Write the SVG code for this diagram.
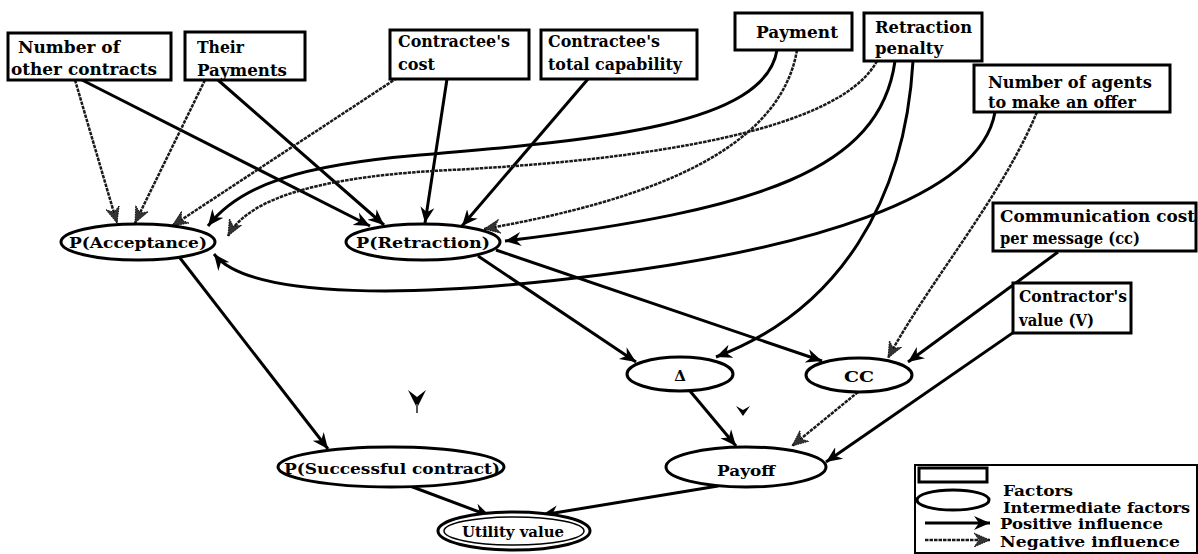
<svg xmlns="http://www.w3.org/2000/svg" width="1198" height="554" viewBox="0 0 1198 554">
<style>
.box{fill:#fff;stroke:#000;stroke-width:3}
.ell{fill:#fff;stroke:#000;stroke-width:3}
.bt{font-family:"DejaVu Serif","Liberation Serif",serif;font-weight:bold;font-size:16px;fill:#000}
.et{font-family:"DejaVu Serif","Liberation Serif",serif;font-weight:bold;font-size:15px;fill:#000}
.lt{font-family:"DejaVu Serif","Liberation Serif",serif;font-weight:bold;font-size:15px;fill:#000}
.pos{fill:none;stroke:#000;stroke-width:3;marker-end:url(#ap)}
.neg{fill:none;stroke:#1a1a1a;stroke-width:2.5;stroke-dasharray:3.5 1;marker-end:url(#an)}
</style>
<defs>
<marker id="ap" markerUnits="userSpaceOnUse" markerWidth="20" markerHeight="16" refX="16" refY="7" orient="auto" viewBox="0 0 20 14">
<path d="M0,0 L16,7 L0,14 L5,7 Z" fill="#000"/>
</marker>
<marker id="an" markerUnits="userSpaceOnUse" markerWidth="20" markerHeight="16" refX="16" refY="7" orient="auto" viewBox="0 0 20 14">
<path d="M0,0 L16,7 L0,14 L5,7 Z" fill="#333" stroke="#000" stroke-width="0.8" stroke-dasharray="1.5 1"/>
</marker>
</defs>
<rect width="1198" height="554" fill="#fff"/>

<g id="connectors">
<path class="pos" d="M82,80 L370,226"/>
<path class="pos" d="M218,80 L384,225"/>
<path class="pos" d="M447,79 L425,223"/>
<path class="pos" d="M588,79 L462,226"/>
<path class="pos" d="M777,50 C765,125 600,140 420,155 C300,165 240,185 208,226"/>
<path class="pos" d="M895,61 C880,170 760,210 505,241"/>
<path class="pos" d="M913,61 C905,200 840,310 716,357"/>
<path class="pos" d="M995,112 C980,200 800,250 600,275 C420,298 250,300 214,254"/>
<path class="pos" d="M1058,252 L908,362"/>
<path class="pos" d="M1027,323 L826,462"/>
<path class="pos" d="M478,256 L636,362"/>
<path class="pos" d="M496,250 L822,361"/>
<path class="pos" d="M180,258 L328,449"/>
<path class="pos" d="M690,391 L736,446"/>
<path class="pos" d="M410,486 L490,516"/>
<path class="pos" d="M718,486 L542,515"/>
<path class="neg" d="M75,80 L117,223"/>
<path class="neg" d="M205,80 L135,223"/>
<path class="neg" d="M397,78 L172,226"/>
<path class="neg" d="M797,50 C780,150 650,200 484,229"/>
<path class="neg" d="M877,61 C840,130 650,160 450,170 C330,176 250,195 228,236"/>
<path class="neg" d="M1037,112 C1000,200 930,280 888,358"/>
<path class="neg" d="M858,392 L792,446"/>
<path d="M408,390 L417,408 L426,390 L417,397 Z" fill="#000"/>
<path d="M417,404 L417,413" stroke="#555" stroke-width="2"/>
<path d="M736,406 L743,416 L750,406 L743,410 Z" fill="#000"/>
</g>

<g id="n-other-contracts"><rect class="box" x="8" y="33" width="163" height="47"/><text class="bt" x="18" y="53" textLength="102" lengthAdjust="spacingAndGlyphs">Number of</text><text class="bt" x="11" y="75" textLength="146" lengthAdjust="spacingAndGlyphs">other contracts</text></g>
<g id="n-their-payments"><rect class="box" x="185" y="32" width="120" height="48"/><text class="bt" x="197" y="53" textLength="47" lengthAdjust="spacingAndGlyphs">Their</text><text class="bt" x="197" y="76" textLength="90" lengthAdjust="spacingAndGlyphs">Payments</text></g>
<g id="n-contractee-cost"><rect class="box" x="390" y="30" width="139" height="49"/><text class="bt" x="398" y="47" textLength="112" lengthAdjust="spacingAndGlyphs">Contractee's</text><text class="bt" x="398" y="70" textLength="37" lengthAdjust="spacingAndGlyphs">cost</text></g>
<g id="n-contractee-capability"><rect class="box" x="541" y="30" width="156" height="49"/><text class="bt" x="548" y="47" textLength="112" lengthAdjust="spacingAndGlyphs">Contractee's</text><text class="bt" x="548" y="70" textLength="134" lengthAdjust="spacingAndGlyphs">total capability</text></g>
<g id="n-payment"><rect class="box" x="735" y="13" width="117" height="37"/><text class="bt" x="756" y="38" textLength="82" lengthAdjust="spacingAndGlyphs">Payment</text></g>
<g id="n-retraction-penalty"><rect class="box" x="864" y="13" width="118" height="48"/><text class="bt" x="875" y="33" textLength="97" lengthAdjust="spacingAndGlyphs">Retraction</text><text class="bt" x="875" y="54" textLength="68" lengthAdjust="spacingAndGlyphs">penalty</text></g>
<g id="n-agents-offer"><rect class="box" x="974" y="65" width="196" height="47"/><text class="bt" x="988" y="88" textLength="164" lengthAdjust="spacingAndGlyphs">Number of agents</text><text class="bt" x="988" y="108" textLength="148" lengthAdjust="spacingAndGlyphs">to make an offer</text></g>
<g id="n-comm-cost"><rect class="box" x="993" y="203" width="203" height="48"/><text class="bt" x="1000" y="222" textLength="195" lengthAdjust="spacingAndGlyphs">Communication cost</text><text class="bt" x="1000" y="244" textLength="140" lengthAdjust="spacingAndGlyphs">per message (cc)</text></g>
<g id="n-contractor-value"><rect class="box" x="1013" y="283" width="118" height="50"/><text class="bt" x="1019" y="302" textLength="108" lengthAdjust="spacingAndGlyphs">Contractor's</text><text class="bt" x="1019" y="326" textLength="75" lengthAdjust="spacingAndGlyphs">value (V)</text></g>

<g id="n-p-acceptance"><ellipse class="ell" cx="138" cy="242" rx="77" ry="18"/><text class="et" x="138" y="248" text-anchor="middle" textLength="138" lengthAdjust="spacingAndGlyphs">P(Acceptance)</text></g>
<g id="n-p-retraction"><ellipse class="ell" cx="423" cy="242" rx="77" ry="18"/><text class="et" x="423" y="248" text-anchor="middle" textLength="134" lengthAdjust="spacingAndGlyphs">P(Retraction)</text></g>
<g id="n-delta"><ellipse class="ell" cx="680" cy="374" rx="53" ry="17"/><text class="et" x="680" y="381" text-anchor="middle" font-size="14">Δ</text></g>
<g id="n-cc"><ellipse class="ell" cx="859" cy="375" rx="53" ry="17"/><text class="et" x="859" y="382" text-anchor="middle" textLength="30" lengthAdjust="spacingAndGlyphs">CC</text></g>
<g id="n-p-success"><ellipse class="ell" cx="391" cy="467" rx="113" ry="20"/><text class="et" x="392" y="474" text-anchor="middle" textLength="216" lengthAdjust="spacingAndGlyphs">P(Successful contract)</text></g>
<g id="n-payoff"><ellipse class="ell" cx="746" cy="467" rx="80" ry="20"/><text class="et" x="746" y="476" text-anchor="middle" textLength="58" lengthAdjust="spacingAndGlyphs">Payoff</text></g>
<g id="n-utility"><ellipse class="ell" cx="514" cy="531" rx="76" ry="19"/><ellipse cx="514" cy="531" rx="70" ry="14" fill="none" stroke="#000" stroke-width="1.5"/><text class="et" x="513" y="537" text-anchor="middle" textLength="102" lengthAdjust="spacingAndGlyphs">Utility value</text></g>

<g id="legend">
<rect x="915" y="465" width="282" height="88" fill="#fff" stroke="#000" stroke-width="2"/>
<rect x="919" y="468" width="68" height="14" fill="#fff" stroke="#000" stroke-width="3"/>
<text class="lt" x="1003" y="496" textLength="70" lengthAdjust="spacingAndGlyphs">Factors</text>
<ellipse cx="953" cy="500" rx="36" ry="10" fill="#fff" stroke="#000" stroke-width="3"/>
<text class="lt" x="1003" y="513" textLength="187" lengthAdjust="spacingAndGlyphs">Intermediate factors</text>
<path class="pos" d="M925,523 L990,523"/>
<text class="lt" x="1000" y="529" textLength="163" lengthAdjust="spacingAndGlyphs">Positive influence</text>
<path class="neg" d="M925,540 L990,540"/>
<text class="lt" x="1000" y="547" textLength="180" lengthAdjust="spacingAndGlyphs">Negative influence</text>
</g>
</svg>
